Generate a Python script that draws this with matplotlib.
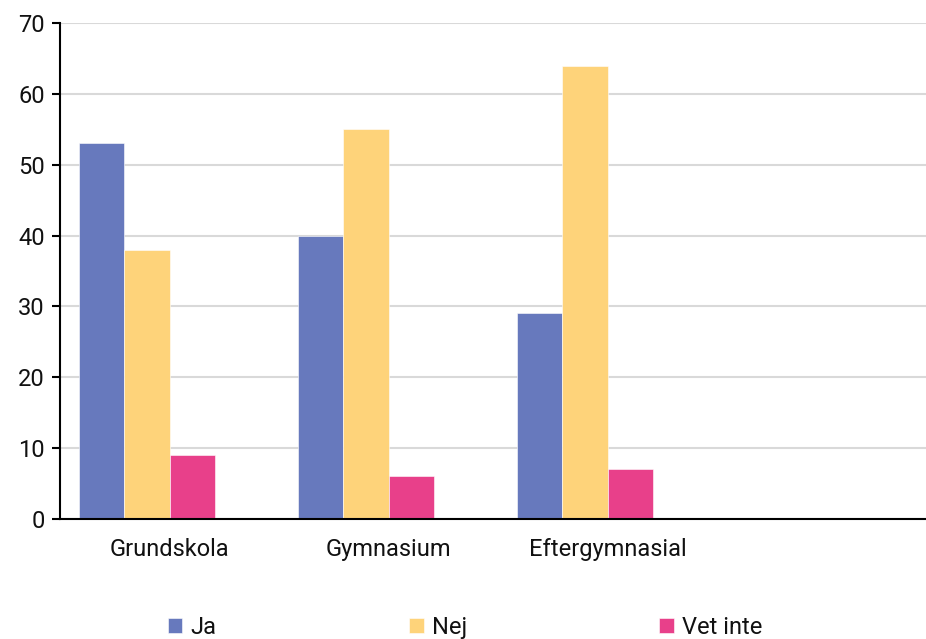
import numpy as np
import matplotlib.pyplot as plt

plt.rcParams['font.family'] = ['Roboto', 'DejaVu Sans']

categories = ["Grundskola", "Gymnasium", "Eftergymnasial", ""]
series_names = ["Ja", "Nej", "Vet inte"]
ja = [53, 40, 29]
nej = [38, 55, 64]
vet_inte = [9, 6, 7]
colors = ["#6779BD", "#FED37A", "#E8408A"]

fig = plt.figure(figsize=(9.26, 6.39), dpi=100)
ax = fig.add_axes([0.065, 0.188, 0.935, 0.776])

x = np.arange(len(ja))
w = 0.208
offsets = [-1.5 * w, -0.5 * w, 0.5 * w]
for vals, off, col, name in zip([ja, nej, vet_inte], offsets, colors, series_names):
    ax.bar(x + off, vals, w, color=col, label=name, zorder=2,
           edgecolor="white", linewidth=0.4)

ax.set_ylim(0, 70)
ax.set_yticks(np.arange(0, 71, 10))
ax.set_xlim(-0.5, 3.454)
ax.set_xticks(np.arange(len(categories)))
ax.set_xticklabels(categories)
ax.grid(axis="y", color="#d9d9d9", linewidth=1.5, zorder=0)
ax.set_axisbelow(True)

for s in ["top", "right"]:
    ax.spines[s].set_visible(False)
ax.spines["left"].set_linewidth(1.5)
ax.spines["bottom"].set_linewidth(1.5)
ax.tick_params(axis="y", length=6, width=1.5, labelsize=17, pad=5, labelcolor="#111111")
ax.tick_params(axis="x", length=0, labelsize=17, pad=14, labelcolor="#111111")

fig.legend(loc="center left", bbox_to_anchor=(0.158, 0.018), ncol=3, frameon=False,
           fontsize=17, handlelength=0.62, handleheight=0.62, handletextpad=0.35,
           columnspacing=8.15, labelcolor="#111111")

fig.savefig("out.png", dpi=100)
